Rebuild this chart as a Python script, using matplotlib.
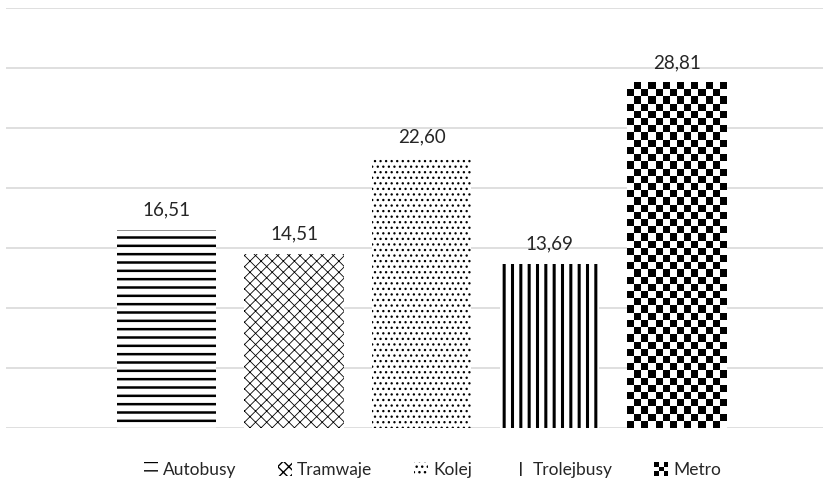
import matplotlib
matplotlib.use('Agg')

import numpy as np
import matplotlib.pyplot as plt
from matplotlib.patches import Rectangle
from matplotlib.legend_handler import HandlerBase

# Average values per transport mode
modes = ['Autobusy', 'Tramwaje', 'Kolej', 'Trolejbusy', 'Metro']
values = [16.51, 14.51, 22.60, 13.69, 28.81]
value_labels = ['16,51', '14,51', '22,60', '13,69', '28,81']

hatches = ['--', 'xxx', '...', '||', None]
hatch_widths = [1.8, 0.6, 0.9, 2.2, 1.0]

plt.rcParams['font.family'] = ['Lato', 'DejaVu Sans']


class CheckerHandler(HandlerBase):
    # Small checkerboard key for the legend
    def create_artists(self, legend, orig_handle, xdescent, ydescent,
                       width, height, fontsize, trans):
        n = 3
        cells = []
        for i in range(n):
            for j in range(n):
                if (i + j) % 2 == 0:
                    cells.append(Rectangle((-xdescent + i * width / n, -ydescent + j * height / n),
                                           width / n, height / n, facecolor='black',
                                           edgecolor='none', transform=trans))
        return cells


fig = plt.figure(figsize=(8.27, 4.86), dpi=100)
ax = fig.add_axes([6 / 827, 58 / 486, 817 / 827, 420 / 486])

x = np.arange(len(modes))
width = 0.78
bars = []
for i in range(len(modes)):
    with plt.rc_context({'hatch.linewidth': hatch_widths[i]}):
        b = ax.bar(x[i], values[i], width, color='white', edgecolor='black',
                   linewidth=0, hatch=hatches[i], label=modes[i], zorder=2)[0]
    if hasattr(b, 'set_hatch_linewidth'):
        b.set_hatch_linewidth(hatch_widths[i])
    bars.append(b)

ax.set_xlim(-1.258, 5.145)
ax.set_ylim(0, 35)

# Checkerboard fill for the metro bar, clipped to the bar itself
metro = bars[4]
x0, w, h = metro.get_x(), metro.get_width(), metro.get_height()
p0 = ax.transData.transform((x0, 0))
p1 = ax.transData.transform((x0 + w, h))
cell = 7.2
ncols = max(1, int(round((p1[0] - p0[0]) / cell)))
nrows = max(1, int(round((p1[1] - p0[1]) / cell)))
checker = (np.indices((nrows, ncols)).sum(axis=0) % 2).astype(float)
im = ax.imshow(checker, cmap='gray', origin='lower', interpolation='nearest',
               extent=(x0, x0 + w, 0, h), aspect='auto', zorder=3)
im.set_clip_path(metro)
ax.set_xlim(-1.258, 5.145)
ax.set_ylim(0, 35)

for b, lab in zip(bars, value_labels):
    ax.annotate(lab, (b.get_x() + b.get_width() / 2, b.get_height()),
                xytext=(0, 8), textcoords='offset points', ha='center', va='bottom',
                fontsize=13.5, color='#262626')

ax.set_yticks(np.arange(0, 36, 5))
ax.yaxis.grid(True, color='#d9d9d9', linewidth=1.2, zorder=0)
ax.set_axisbelow(True)
ax.tick_params(left=False, bottom=False, labelleft=False, labelbottom=False)
for s in ax.spines.values():
    s.set_visible(False)

handles = bars[:4] + [Rectangle((0, 0), 1, 1)]
handler_map = {handles[4]: CheckerHandler()}
fig.legend(handles, modes, loc='center', bbox_to_anchor=(0.523, 0.033), ncol=5,
           frameon=False, fontsize=12.5, handlelength=0.8, handleheight=0.8,
           handletextpad=0.3, columnspacing=2.4, handler_map=handler_map,
           labelcolor='#262626')

fig.savefig('out.png', dpi=100)
